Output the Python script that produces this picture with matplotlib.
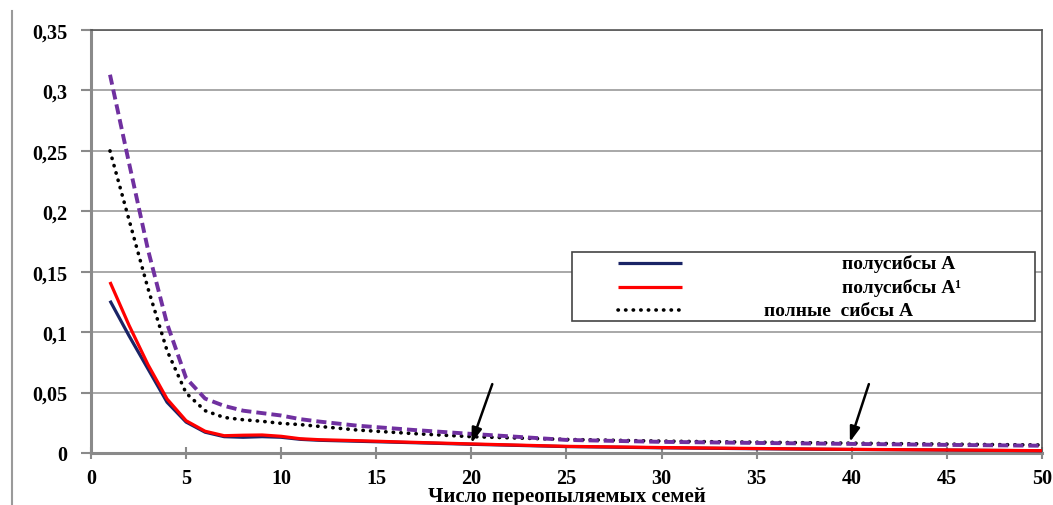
import matplotlib
matplotlib.use('Agg')
import matplotlib.pyplot as plt
from matplotlib.lines import Line2D
from matplotlib.patches import Rectangle

# number of pollinated families
x = [1, 2, 3, 4, 5, 6, 7, 8, 9, 10, 11, 12, 14, 17, 20, 25, 30, 35, 40, 45, 50]

half_sib_a = [0.126, 0.097, 0.0695, 0.042, 0.0256, 0.0172, 0.0135, 0.013, 0.0135, 0.013, 0.0113,
              0.0105, 0.0097, 0.0085, 0.0072, 0.0053, 0.0043, 0.0035, 0.0029, 0.0024, 0.0018]
half_sib_a1 = [0.1415, 0.1057, 0.073, 0.0447, 0.0267, 0.018, 0.0143, 0.0147, 0.0149, 0.0138, 0.0118,
               0.011, 0.0102, 0.0088, 0.0075, 0.0055, 0.0045, 0.0037, 0.003, 0.0025, 0.0019]
full_sib_a = [0.25, 0.193, 0.136, 0.0847, 0.0496, 0.035, 0.0294, 0.0275, 0.0262, 0.0245, 0.0235,
              0.022, 0.019, 0.016, 0.0135, 0.0112, 0.0098, 0.0089, 0.0081, 0.0073, 0.0066]
full_sib_a1 = [0.313, 0.240, 0.168, 0.107, 0.062, 0.045, 0.039, 0.035, 0.033, 0.031, 0.028,
               0.026, 0.0226, 0.019, 0.0158, 0.0108, 0.0092, 0.0083, 0.0075, 0.0067, 0.006]

legend_labels = ['полусибсы А', 'полусибсы А\u00b9', 'полные  сибсы А']

# arrows: (tail_x, tail_y, tip_x, tip_y)
arrows = [(21.1, 0.057, 20.0, 0.008), (40.9, 0.057, 39.9, 0.009)]

yticks = [0, 0.05, 0.1, 0.15, 0.2, 0.25, 0.3, 0.35]
ytick_labels = ['0', '0,05', '0,1', '0,15', '0,2', '0,25', '0,3', '0,35']
xticks = list(range(0, 51, 5))

serif = ['Liberation Serif', 'DejaVu Serif']

styles = [
    dict(color='#1a2466', lw=2.3, ls='-', solid_capstyle='butt'),
    dict(color='#ff0000', lw=2.3, ls='-', solid_capstyle='butt'),
    dict(color='black', lw=2.6, ls=(0, (0.1, 2.0)), dash_capstyle='round'),
]
purple_style = dict(color='#7030a0', lw=2.8, ls=(0, (2.6, 1.3)))

fig = plt.figure(figsize=(10.53, 5.06), dpi=100)
ax = fig.add_axes([0.0864, 0.1028, 0.9031, 0.8359])

ax.plot(x, full_sib_a, **styles[2], zorder=3)
ax.plot(x, full_sib_a1, **purple_style, zorder=4)
ax.plot(x, half_sib_a, **styles[0], zorder=5)
ax.plot(x, half_sib_a1, **styles[1], zorder=6)

for tx, ty, hx, hy in arrows:
    ax.annotate('', xy=(hx, hy), xytext=(tx, ty),
                arrowprops=dict(arrowstyle='-|>,head_length=0.9,head_width=0.3',
                                color='black', lw=1.8, shrinkA=0, shrinkB=0),
                zorder=8)

ax.set_xlim(0, 50)
ax.set_ylim(0, 0.35)
ax.set_yticks(yticks)
ax.set_yticklabels(ytick_labels)
ax.set_xticks(xticks)
ax.grid(axis='y', color='#9a9a9a', lw=1.2)
ax.set_axisbelow(True)

for side in ['top', 'right']:
    ax.spines[side].set_color('#555555')
    ax.spines[side].set_linewidth(1.2)
for side in ['left', 'bottom']:
    ax.spines[side].set_color('#8a8a8a')
    ax.spines[side].set_linewidth(2.2)

ax.tick_params(axis='y', direction='out', length=7, width=1.5, color='#8a8a8a', pad=10)
ax.tick_params(axis='x', direction='inout', length=8, width=1.5, color='#8a8a8a', pad=7)
for lab in ax.get_xticklabels() + ax.get_yticklabels():
    lab.set_family(serif)
    lab.set_fontweight('bold')
    lab.set_fontsize(14.5)

ax.set_xlabel('Число переопыляемых семей', family=serif, fontweight='bold',
              fontsize=15, labelpad=-1.5)

# legend box drawn by hand to match the layout
ax.add_patch(Rectangle((0.506, 0.312), 0.4866, 0.163, transform=ax.transAxes,
                       facecolor='white', edgecolor='#444444', lw=1.2, zorder=9))
rows_y = [0.449, 0.392, 0.338]
text_x = [0.790, 0.790, 0.708]
for st, label, ry, tx in zip(styles, legend_labels, rows_y, text_x):
    ax.add_line(Line2D([0.554, 0.622], [ry, ry], transform=ax.transAxes, zorder=10, **st))
    ax.text(tx, ry, label, transform=ax.transAxes, family=serif, fontweight='bold',
            fontsize=14, va='center', ha='left', zorder=10)

# thin frame line on the left edge of the picture
fig.add_artist(Line2D([0.0118, 0.0118], [0.0, 0.976], transform=fig.transFigure,
                      color='#9a9a9a', lw=1.5))

fig.savefig('out.png', dpi=100)
